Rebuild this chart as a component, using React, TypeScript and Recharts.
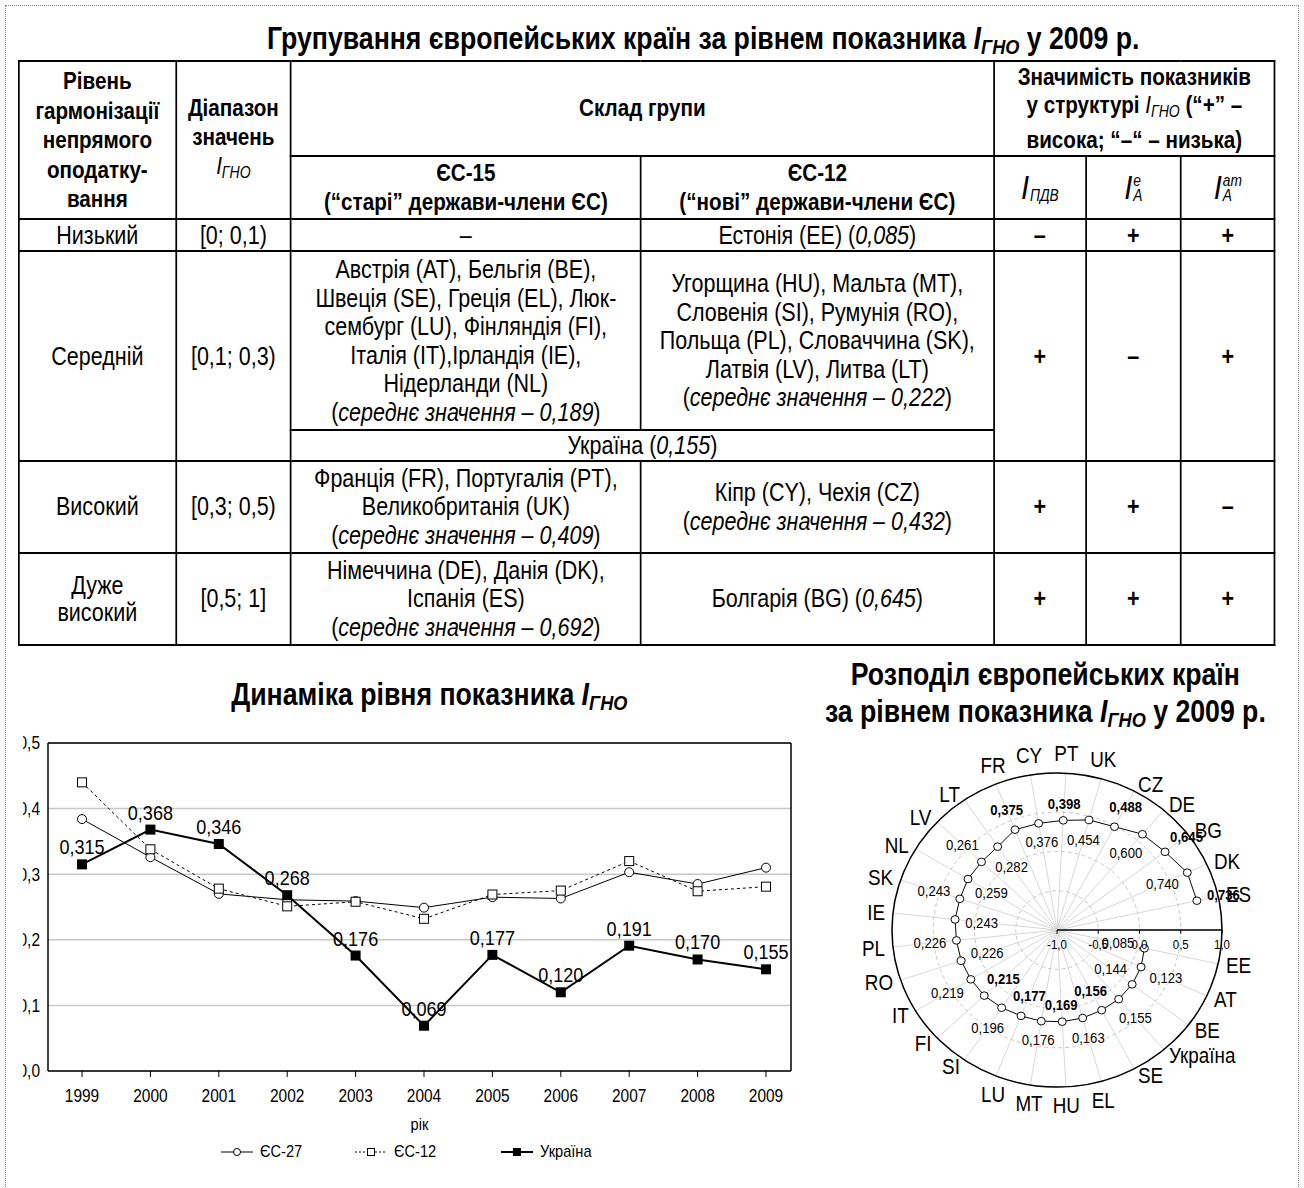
import React from 'react';
import {
  LineChart, Line, XAxis, YAxis, CartesianGrid, Legend, LabelList, ReferenceLine,
  RadarChart, Radar, PolarGrid, PolarAngleAxis, PolarRadiusAxis,
} from 'recharts';

const FONT = '"Liberation Sans", Arial, sans-serif';
const SX = 0.86; // narrow face: Arial squeezed horizontally

// line chart: I_GNO dynamics
const years = ['1999', '2000', '2001', '2002', '2003', '2004', '2005', '2006', '2007', '2008', '2009'];
const eu27 = [0.384, 0.326, 0.270, 0.261, 0.259, 0.249, 0.265, 0.263, 0.303, 0.285, 0.310];
const eu12 = [0.440, 0.338, 0.278, 0.251, 0.258, 0.232, 0.269, 0.275, 0.320, 0.274, 0.281];
const ukraine = [0.315, 0.368, 0.346, 0.268, 0.176, 0.069, 0.177, 0.120, 0.191, 0.170, 0.155];
const yTicks = [0, 0.1, 0.2, 0.3, 0.4, 0.5];
const seriesOrder = ['eu27', 'eu12', 'ua'];

// polar chart: countries in 2009
const countries = ['EE', 'AT', 'BE', 'Україна', 'SE', 'EL', 'HU', 'MT', 'LU', 'SI', 'FI', 'IT', 'RO', 'PL',
  'IE', 'SK', 'NL', 'LV', 'LT', 'FR', 'CY', 'PT', 'UK', 'CZ', 'DE', 'BG', 'DK', 'ES'];
const index2009 = [0.085, 0.123, 0.144, 0.155, 0.156, 0.163, 0.169, 0.176, 0.177, 0.196, 0.215, 0.219, 0.226, 0.226,
  0.243, 0.243, 0.259, 0.261, 0.282, 0.375, 0.376, 0.398, 0.454, 0.488, 0.600, 0.645, 0.740, 0.736];
const radiusTicks = [-1, -0.5, 0, 0.5, 1];
const boldLabels = ['SE', 'HU', 'LU', 'FI', 'FR', 'PT', 'CZ', 'BG', 'ES'];

const lineData = years.map((year, i) => ({ year, eu27: eu27[i], eu12: eu12[i], ua: ukraine[i] }));
// empty slot first: the radius axis sits there
const radarData = [{ country: '', value: null as number | null }, ...countries.map((c, i) => ({ country: c, value: index2009[i] }))];

const fmt1 = (v: number) => v.toFixed(1).replace('.', ',');
const fmt3 = (v: number) => v.toFixed(3).replace('.', ',');

const NText = ({ x, y, sx = SX, children, ...rest }: any) => (
  <g transform={`translate(${x},${y}) scale(${sx},1)`}>
    <text x={0} y={0} fontFamily={FONT} fill="#000" {...rest}>{children}</text>
  </g>
);

const Squeeze = ({ children, style }: { children: React.ReactNode; style?: React.CSSProperties }) => (
  <span style={{ display: 'inline-block', transform: `scaleX(${SX})`, whiteSpace: 'nowrap', ...style }}>{children}</span>
);

const Igno = ({ bold }: { bold?: boolean }) => (
  <span style={{ fontStyle: 'italic', fontWeight: bold ? 'bold' : 'normal' }}>
    I<span style={{ fontSize: '0.68em', verticalAlign: '-0.22em' }}>ГНО</span>
  </span>
);

const Idx = ({ sub, sup }: { sub: string; sup?: string }) => (
  <span style={{ display: 'inline-flex', alignItems: 'flex-end', fontStyle: 'italic', fontWeight: 'normal' }}>
    <span style={{ fontSize: 34, lineHeight: '32px' }}>I</span>
    <span style={{ display: 'inline-flex', flexDirection: 'column', fontSize: 16, lineHeight: '15px', marginLeft: 1, alignItems: 'flex-start' }}>
      <span>{sup ?? '\u00a0'}</span>
      <span>{sub}</span>
    </span>
  </span>
);

const Mean = ({ v }: { v: string }) => (
  <span>(<i>середнє значення – {v}</i>)</span>
);

const td = (extra?: React.CSSProperties): React.CSSProperties => ({
  border: '2px solid #000', padding: '0 3px', textAlign: 'center', verticalAlign: 'middle', ...extra,
});
const th = (extra?: React.CSSProperties): React.CSSProperties => td({ fontWeight: 'bold', fontSize: 24, ...extra });
const sign: React.CSSProperties = { fontWeight: 'bold' };
const colW = [157, 115, 350, 353, 92, 95, 94];

function GroupTable() {
  return (
    <div style={{ position: 'absolute', left: 18, top: 60, transform: `scaleX(${SX})`, transformOrigin: '0 0' }}>
      <table style={{
        width: 1256 / SX, borderCollapse: 'collapse', tableLayout: 'fixed',
        fontSize: 25, lineHeight: '28.5px', color: '#000',
      }}>
        <colgroup>
          {colW.map((w, i) => <col key={i} style={{ width: w / SX }} />)}
        </colgroup>
        <tbody>
          <tr style={{ height: 95 }}>
            <td rowSpan={2} style={th({ lineHeight: '29.5px' })}>Рівень<br />гармонізації<br />непрямого<br />оподатку-<br />вання</td>
            <td rowSpan={2} style={th({ lineHeight: '29px' })}>Діапазон<br />значень<br /><Igno /></td>
            <td colSpan={2} style={th()}>Склад групи</td>
            <td colSpan={3} style={th()}>Значимість показників<br />у структурі <Igno /> (“+” –<br />висока; “–“ – низька)</td>
          </tr>
          <tr style={{ height: 63 }}>
            <td style={th()}>ЄС-15<br />(“старі” держави-члени ЄС)</td>
            <td style={th()}>ЄС-12<br />(“нові” держави-члени ЄС)</td>
            <td style={td()}><Idx sub="ПДВ" /></td>
            <td style={td()}><Idx sub="A" sup="e" /></td>
            <td style={td()}><Idx sub="A" sup="am" /></td>
          </tr>
          <tr style={{ height: 32 }}>
            <td style={td()}>Низький</td>
            <td style={td()}>[0; 0,1)</td>
            <td style={td()}>–</td>
            <td style={td()}>Естонія (EE) (<i>0,085</i>)</td>
            <td style={td(sign)}>–</td>
            <td style={td(sign)}>+</td>
            <td style={td(sign)}>+</td>
          </tr>
          <tr style={{ height: 179 }}>
            <td rowSpan={2} style={td()}>Середній</td>
            <td rowSpan={2} style={td()}>[0,1; 0,3)</td>
            <td style={td()}>Австрія (AT), Бельгія (BE),<br />Швеція (SE), Греція (EL), Люк-<br />сембург (LU), Фінляндія (FI),<br />Італія (IT),Ірландія (IE),<br />Нідерланди (NL)<br /><Mean v="0,189" /></td>
            <td style={td()}>Угорщина (HU), Мальта (MT),<br />Словенія (SI), Румунія (RO),<br />Польща (PL), Словаччина (SK),<br />Латвія (LV), Литва (LT)<br /><Mean v="0,222" /></td>
            <td rowSpan={2} style={td(sign)}>+</td>
            <td rowSpan={2} style={td(sign)}>–</td>
            <td rowSpan={2} style={td(sign)}>+</td>
          </tr>
          <tr style={{ height: 30 }}>
            <td colSpan={2} style={td()}>Україна (<i>0,155</i>)</td>
          </tr>
          <tr style={{ height: 92 }}>
            <td style={td()}>Високий</td>
            <td style={td()}>[0,3; 0,5)</td>
            <td style={td()}>Франція (FR), Португалія (PT),<br />Великобританія (UK)<br /><Mean v="0,409" /></td>
            <td style={td()}>Кіпр (CY), Чехія (CZ)<br /><Mean v="0,432" /></td>
            <td style={td(sign)}>+</td>
            <td style={td(sign)}>+</td>
            <td style={td(sign)}>–</td>
          </tr>
          <tr style={{ height: 92 }}>
            <td style={td({ lineHeight: '27px' })}>Дуже<br />високий</td>
            <td style={td()}>[0,5; 1]</td>
            <td style={td()}>Німеччина (DE), Данія (DK),<br />Іспанія (ES)<br /><Mean v="0,692" /></td>
            <td style={td()}>Болгарія (BG) (<i>0,645</i>)</td>
            <td style={td(sign)}>+</td>
            <td style={td(sign)}>+</td>
            <td style={td(sign)}>+</td>
          </tr>
        </tbody>
      </table>
    </div>
  );
}

const CircleDot = (p: any) => (
  <circle key={`c${p.index}`} cx={p.cx} cy={p.cy} r={4.5} fill="#fff" stroke="#000" strokeWidth={1} />
);
const SquareDot = (p: any) => (
  <rect key={`s${p.index}`} x={p.cx - 4.5} y={p.cy - 4.5} width={9} height={9} fill="#fff" stroke="#000" strokeWidth={1} />
);
const FilledDot = (p: any) => (
  <rect key={`f${p.index}`} x={p.cx - 5} y={p.cy - 5} width={10} height={10} fill="#000" />
);

const LegendIcon = ({ k }: { k: string }) => (
  <svg width={32} height={12} style={{ marginRight: 7 }}>
    {k === 'eu27' && <>
      <line x1={0} y1={6} x2={32} y2={6} stroke="#000" strokeWidth={1} />
      <circle cx={16} cy={6} r={3.5} fill="#fff" stroke="#000" />
    </>}
    {k === 'eu12' && <>
      <line x1={0} y1={6} x2={32} y2={6} stroke="#000" strokeWidth={1} strokeDasharray="2 2" />
      <rect x={12.5} y={2.5} width={7} height={7} fill="#fff" stroke="#000" />
    </>}
    {k === 'ua' && <>
      <line x1={0} y1={6} x2={32} y2={6} stroke="#000" strokeWidth={2} />
      <rect x={12} y={2} width={8} height={8} fill="#000" />
    </>}
  </svg>
);

const legendGaps: Record<string, number> = { eu27: 45, eu12: 58, ua: 0 };

const LineLegend = (props: any) => {
  const items = [...(props.payload || [])].sort(
    (a: any, b: any) => seriesOrder.indexOf(a.dataKey) - seriesOrder.indexOf(b.dataKey));
  return (
    <div style={{ display: 'flex', justifyContent: 'center', alignItems: 'center', height: 28, paddingLeft: 28, fontFamily: FONT, fontSize: 17, color: '#000' }}>
      {items.map((e: any) => (
        <div key={e.dataKey} style={{ display: 'flex', alignItems: 'center', marginRight: legendGaps[e.dataKey] }}>
          <LegendIcon k={e.dataKey} />
          <span style={{ display: 'inline-block', transform: `scaleX(${SX})`, transformOrigin: '0 50%' }}>{e.value}</span>
        </div>
      ))}
    </div>
  );
};

const XTick = (p: any) => (
  <NText x={p.x} y={p.y} dy="0.71em" textAnchor="middle" fontSize={18}>{p.payload.value}</NText>
);
const YTick = (p: any) => (
  <NText x={p.x} y={p.y} dy="0.36em" textAnchor="end" fontSize={18}>{fmt1(Number(p.payload.value))}</NText>
);
const YearLabel = (p: any) => {
  const vb = p.viewBox || {};
  return <NText x={vb.x + vb.width / 2} y={vb.y + vb.height - 8} textAnchor="middle" fontSize={17}>рік</NText>;
};
const UaLabel = (p: any) => (
  <NText x={p.x} y={p.y - 10} textAnchor="middle" fontSize={21}>{fmt3(Number(p.value))}</NText>
);

function DynamicsChart() {
  // the left edge of the tick labels is cut, as in the source picture
  return (
    <div style={{ position: 'absolute', left: 23, top: 730, width: 789, height: 440, overflow: 'hidden' }}>
      <div style={{ marginLeft: -21 }}>
        <LineChart width={810} height={440} data={lineData} margin={{ top: 13, right: 21, bottom: 4, left: 0 }}>
          <CartesianGrid vertical={false} stroke="#c8c8c8" strokeWidth={1.5} />
          <XAxis
            dataKey="year" interval={0} padding={{ left: 34, right: 25 }} height={67}
            axisLine={{ stroke: '#000', strokeWidth: 1.5 }} tickLine={{ stroke: '#000' }} tickSize={6} tickMargin={12}
            tick={XTick} label={YearLabel}
          />
          <YAxis
            domain={[0, 0.5]} ticks={yTicks} width={46}
            axisLine={{ stroke: '#000', strokeWidth: 1.5 }} tickLine={false} tickSize={6} tickMargin={2} tick={YTick}
          />
          <YAxis
            yAxisId="r" orientation="right" domain={[0, 0.5]} ticks={yTicks} tick={false} mirror width={1}
            tickSize={5} tickLine={{ stroke: '#000' }} axisLine={{ stroke: '#000', strokeWidth: 1.5 }}
          />
          <ReferenceLine y={0.5} stroke="#000" strokeWidth={1.5} />
          <Legend verticalAlign="bottom" content={LineLegend} />
          <Line dataKey="eu27" name="ЄС-27" stroke="#000" strokeWidth={1} dot={CircleDot} activeDot={false} isAnimationActive={false} />
          <Line dataKey="eu12" name="ЄС-12" stroke="#000" strokeWidth={1} strokeDasharray="3 3" dot={SquareDot} activeDot={false} isAnimationActive={false} />
          <Line dataKey="ua" name="Україна" stroke="#000" strokeWidth={2} dot={FilledDot} activeDot={false} isAnimationActive={false}>
            <LabelList dataKey="ua" content={UaLabel} />
          </Line>
        </LineChart>
      </div>
    </div>
  );
}

// inside the polar block the picture is squeezed vertically, so text is squeezed a bit less
const PSX = 0.82;

const AngleTick = (p: any) => {
  const v = p.payload?.value;
  if (!v) return null;
  const a = (p.payload.coordinate * Math.PI) / 180;
  const cos = Math.cos(a);
  const sin = Math.sin(a);
  const topOrBottom = Math.abs(cos) < 0.4;
  const anchor = topOrBottom ? 'middle' : cos > 0 ? 'start' : 'end';
  const dy = topOrBottom ? (sin > 0 ? '-0.19em' : '0.86em') : '0.36em';
  return (
    <NText x={p.x} y={p.y} sx={PSX} dy={dy} textAnchor={anchor} fontSize={23}>{v}</NText>
  );
};

const RadiusTick = (p: any) => (
  <g>
    <line x1={p.x} y1={p.y} x2={p.x} y2={p.y + 4} stroke="#000" />
    <NText x={p.x} y={p.y + 20} sx={PSX} textAnchor="middle" fontSize={14}>{fmt1(Number(p.payload.value))}</NText>
  </g>
);

const RadarShape = (props: any) => {
  const pts = (props.points || []).filter((pt: any) => pt.payload && pt.payload.value != null);
  const d = pts.map((pt: any, i: number) => `${i ? 'L' : 'M'}${pt.x},${pt.y}`).join(' ');
  return (
    <g>
      <path d={d} fill="none" stroke="#000" strokeWidth={1} />
      {pts.map((pt: any, i: number) => (
        <circle key={`d${i}`} cx={pt.x} cy={pt.y} r={4} fill="#fff" stroke="#000" strokeWidth={1} />
      ))}
      {pts.map((pt: any, i: number) => {
        const ux = (pt.x - pt.cx) / pt.radius;
        const uy = (pt.y - pt.cy) / pt.radius;
        const dir = i % 2 === 0 ? -1 : 1;
        const off = 10 + 16 * Math.abs(ux) + 7 * Math.abs(uy);
        const bold = boldLabels.includes(pt.payload.country);
        return (
          <NText key={`l${i}`} x={pt.x + dir * off * ux} y={pt.y + dir * off * uy} sx={PSX} dy="0.35em" textAnchor="middle"
            fontSize={16} fontWeight={bold ? 'bold' : 'normal'} stroke="#fff" strokeWidth={2} paintOrder="stroke">
            {fmt3(pt.payload.value)}
          </NText>
        );
      })}
    </g>
  );
};

function PolarChart() {
  return (
    <div style={{ position: 'absolute', left: 837, top: 710, width: 440, height: 440, transform: 'scaleY(0.952)', transformOrigin: '220px 220px' }}>
      <RadarChart width={440} height={440} data={radarData} cx={220} cy={220} outerRadius={165}
        startAngle={0} endAngle={-360} margin={{ top: 0, right: 0, bottom: 0, left: 0 }}>
        <PolarGrid gridType="circle" polarRadius={[]} stroke="#d6d6d6" />
        <PolarGrid gridType="circle" radialLines={false} stroke="#c4c4c4" strokeDasharray="4 3" />
        <PolarAngleAxis dataKey="country" tick={AngleTick} tickLine={false} tickSize={8}
          axisLine={{ stroke: '#000', strokeWidth: 1.5 }} axisLineType="circle" />
        <PolarRadiusAxis angle={0} type="number" domain={[-1, 1]} ticks={radiusTicks} tickCount={5}
          axisLine={{ stroke: '#000', strokeWidth: 1.5 }} tickLine={false} tick={RadiusTick} />
        <Radar dataKey="value" shape={RadarShape} dot={false} stroke="#000" fill="none" isAnimationActive={false} />
      </RadarChart>
    </div>
  );
}

const titleStyle: React.CSSProperties = { position: 'absolute', textAlign: 'center', fontWeight: 'bold', fontSize: 31 };

export default function App() {
  return (
    <div style={{ position: 'absolute', left: 0, top: 0, width: 1304, height: 1188, overflow: 'hidden', background: '#fff', fontFamily: FONT, color: '#000' }}>
      <div style={{ position: 'absolute', left: 5, top: 5, width: 1294, height: 1250, border: '1px dotted #888', boxSizing: 'border-box' }} />
      <div style={{ ...titleStyle, left: 103, top: 22, width: 1200, lineHeight: '34px' }}>
        <Squeeze>Групування європейських країн за рівнем показника <Igno bold /> у 2009 р.</Squeeze>
      </div>
      <GroupTable />
      <div style={{ ...titleStyle, left: 29, top: 678, width: 800, lineHeight: '34px' }}>
        <Squeeze>Динаміка рівня показника <Igno bold /></Squeeze>
      </div>
      <DynamicsChart />
      <div style={{ ...titleStyle, left: 745, top: 656, width: 600, lineHeight: '37px' }}>
        <Squeeze>Розподіл європейських країн</Squeeze><br />
        <Squeeze>за рівнем показника <Igno bold /> у 2009 р.</Squeeze>
      </div>
      <PolarChart />
    </div>
  );
}
